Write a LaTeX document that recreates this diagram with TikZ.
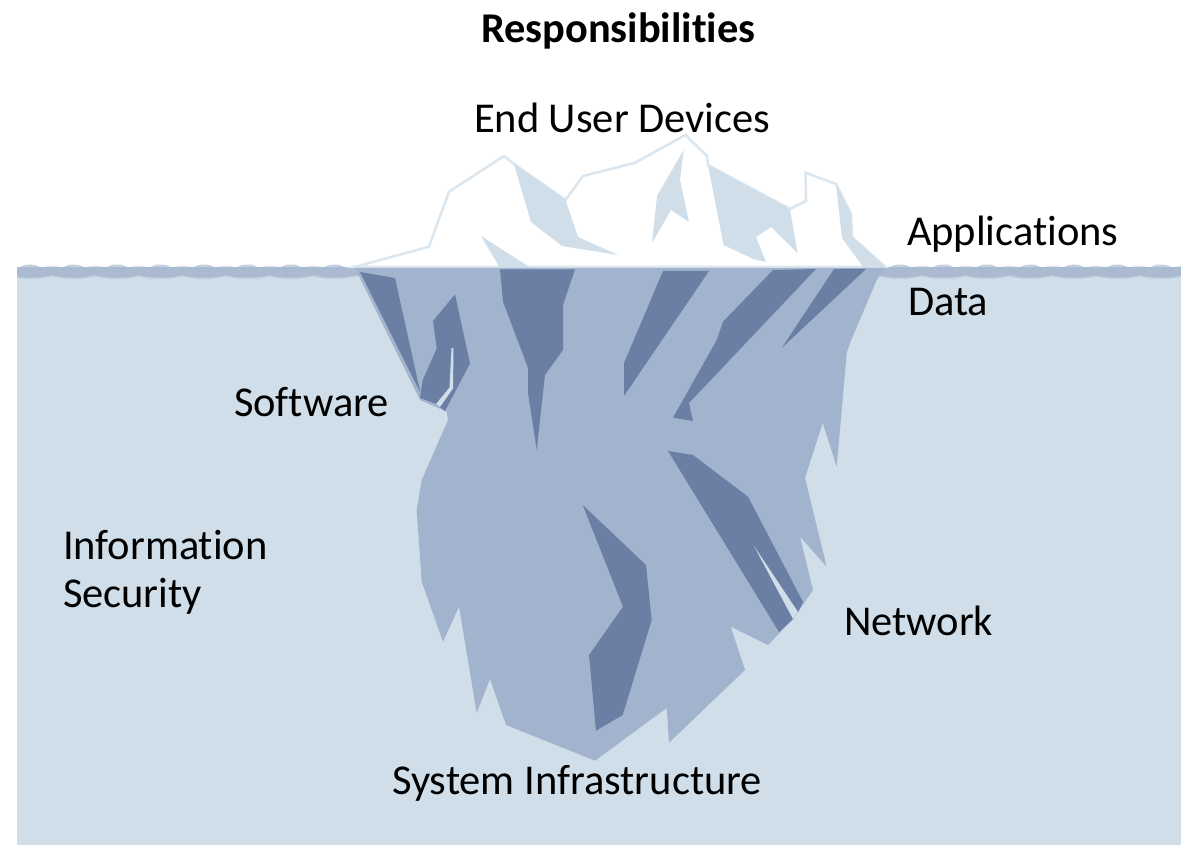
\documentclass[tikz,border=0pt]{standalone}
\usepackage{fontspec}
\setmainfont{Carlito}[Ligatures=NoCommon]
\definecolor{sea}{HTML}{D0DEE9}
\definecolor{ice}{HTML}{A2B4CD}
\definecolor{deep}{HTML}{6A7FA3}
\definecolor{band}{HTML}{A9BAD1}
\definecolor{halo}{HTML}{BECDDD}
\definecolor{bump}{HTML}{C4D1E0}
\definecolor{rim}{HTML}{DCE6EE}
\tikzset{
  seafill/.style={fill=sea,draw=none},
  icefill/.style={fill=ice,draw=none},
  deepfill/.style={fill=deep,draw=none},
  slitfill/.style={fill=sea,draw=none},
  shade/.style={fill=sea,draw=none},
  tiptop/.style={fill=white,draw=rim,line width=2.5pt,line join=miter},
  label/.style={anchor=base west,inner sep=0pt,outer sep=0pt,text=black,font=\fontsize{42.5}{46}\selectfont},
  heading/.style={anchor=base west,inner sep=0pt,outer sep=0pt,text=black,font=\fontsize{42.4}{46}\selectfont\bfseries}
}
\begin{document}
\begin{tikzpicture}[x=1pt,y=-1pt]
\useasboundingbox (0,0) rectangle (1181,845);
\fill[white] (0,0) rectangle (1181,845);
% sea
\path[seafill] (17,272) rectangle (1181,845);
% wave band
\begin{scope}
\clip (17,262) rectangle (1181,285);
\foreach \k in {0,...,26}{
  \path[fill=bump] ({30+43.5*\k},268) ellipse (10 and 3.5);
  \path[fill=rim] ({52+43.5*\k},268) ellipse (8 and 2.5);
}
\end{scope}
\begin{scope}
\clip (17,267.5) rectangle (1181,285);
\foreach \k in {0,...,26}{
  \path[fill=halo] ({30+43.5*\k},271) ellipse (29 and 8);
}
\foreach \k in {0,...,26}{
  \path[fill=band] ({30+43.5*\k},271) ellipse (28 and 6.5);
}
\end{scope}
% tip
\path[tiptop] (354.5,267) -- (429,246.7) -- (449,191.7) -- (504,156) -- (514,164) -- (565.5,200) -- (583,176) -- (634.5,163) -- (685.5,135) -- (707,156) -- (708,165) -- (790,209) -- (806,201) -- (805.5,172.7) -- (836,184) -- (851,214) -- (852,237) -- (885.5,267) -- cycle;
\path[shade] (514,164) -- (565.5,200) -- (578,237) -- (618,255) -- (562,246) -- (531,222) -- cycle;
\path[shade] (683.6,150) -- (680,180) -- (689,222) -- (671,210) -- (652,243) -- (657,196) -- cycle;
\path[shade] (708,165) -- (790,209) -- (797.5,253) -- (771,227) -- (756,237) -- (766,262) -- (753,259) -- (723.6,245) -- cycle;
\path[shade] (836,184) -- (851,214) -- (852,237) -- (885.5,267) -- (864,268) -- (842,238) -- cycle;
\path[shade] (481,236) -- (531,268) -- (500,268) -- cycle;
% submerged ice
\path[icefill] (355,268) -- (885,268) -- (876.7,280) -- (850,343) -- (846.7,353) -- (841.7,410) -- (836.7,466.7) -- (822.7,423) -- (805,478) -- (826.7,566.7) -- (800,536.7) -- (813,590) -- (798,612) -- (793,619) -- (768,645) -- (730.7,626.7) -- (745,670) -- (669,742.7) -- (666.7,708) -- (595,760.7) -- (506,725) -- (490,679) -- (476.7,713) -- (459,606.7) -- (443,641.7) -- (421.7,581.7) -- (416.7,510) -- (421.7,480) -- (448,420) -- (446.7,411.7) -- (420,400) -- cycle;
% dark facets
\path[deepfill] (360,272) -- (395,278) -- (420.5,393) -- cycle;
\path[deepfill] (455,294.3) -- (470,363.3) -- (445,411) -- (436,404) -- (420,398) -- (422.7,380) -- (436.7,348.3) -- (433,321) -- cycle;
\path[slitfill] (451.5,348) -- (453.5,348.5) -- (453,388.5) -- (440,407) -- (436,404) -- (449.5,387.5) -- cycle;
\path[deepfill] (500,269.3) -- (575,269.3) -- (563,305) -- (563,350) -- (545,375) -- (536.7,450) -- (528,393) -- (528,368) -- (503,301.7) -- cycle;
\path[deepfill] (663,271) -- (709,271) -- (624,396) -- (624,363) -- cycle;
\path[deepfill] (773,270) -- (816,269) -- (689,403) -- (693,421) -- (673,417.7) -- (716.7,340) -- (723,321.7) -- cycle;
\path[deepfill] (834,269) -- (866,269) -- (781.7,348) -- cycle;
\path[deepfill] (668,451) -- (693,455) -- (748,496.7) -- (803,602) -- (798,612) -- (793,619) -- (779,632) -- cycle;
\path[slitfill] (754,546) -- (798,612) -- (793,619) -- (786,606) -- cycle;
\path[deepfill] (582.7,505) -- (646,565) -- (651.7,620) -- (622.7,715) -- (596,730.7) -- (589,655) -- (623,606.7) -- cycle;
% labels
\node[heading] (title) at (481,43) {Responsibilities};
\node[label] (enduser) at (474,133) {End User Devices};
\node[label] (apps) at (907,246) {Applications};
\node[label] (data) at (908,316) {Data};
\node[label] (software) at (234,416) {Software};
\node[label] (infosec1) at (63,559) {Information};
\node[label] (infosec2) at (63,607) {Security};
\node[label] (network) at (844,635) {Network};
\node[label] (sysinfra) at (392,794) {System Infrastructure};
\end{tikzpicture}
\end{document}
